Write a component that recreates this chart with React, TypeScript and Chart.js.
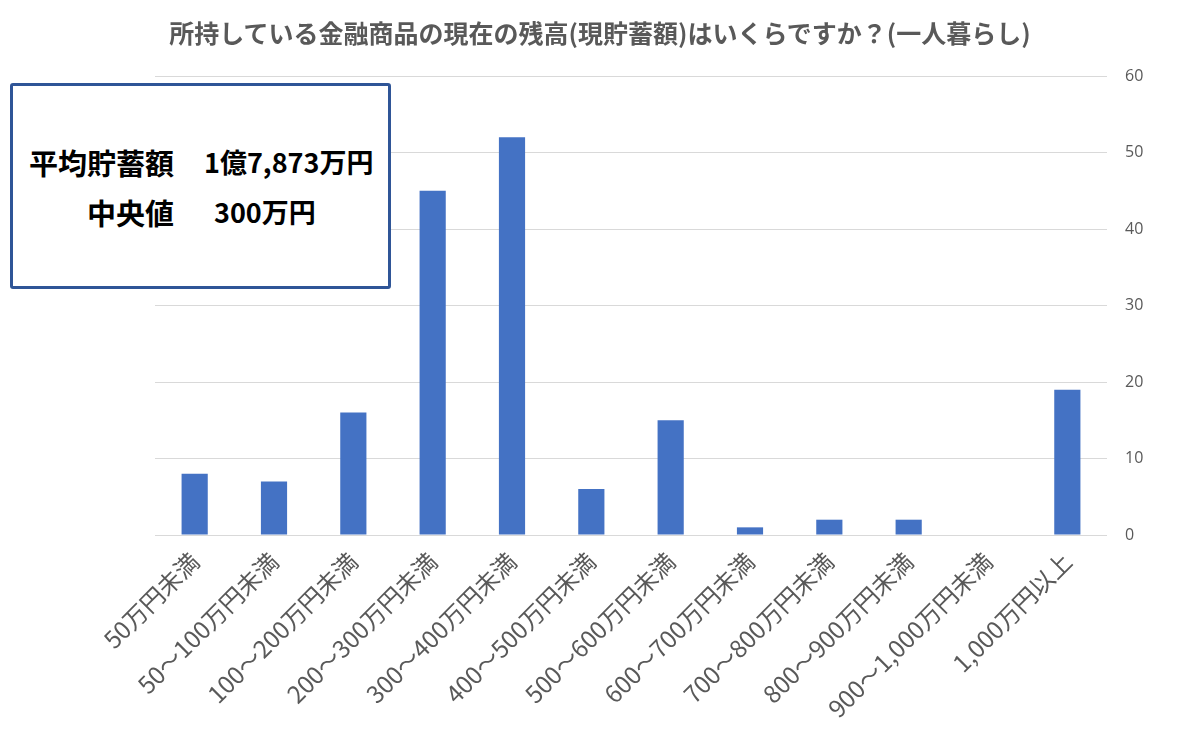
import React, { useEffect, useRef } from "react";
import { Chart, registerables } from "chart.js";

Chart.register(...registerables);

const titleText =
  "所持している金融商品の現在の残高(現貯蓄額)はいくらですか？(一人暮らし)";

const categories = [
  "50万円未満",
  "50～100万円未満",
  "100～200万円未満",
  "200～300万円未満",
  "300～400万円未満",
  "400～500万円未満",
  "500～600万円未満",
  "600～700万円未満",
  "700～800万円未満",
  "800～900万円未満",
  "900～1,000万円未満",
  "1,000万円以上",
];

const counts = [8, 7, 16, 45, 52, 6, 15, 1, 2, 2, 0, 19];

const yMin = 0;
const yMax = 60;
const yStep = 10;

const summaryLabels = ["平均貯蓄額", "中央値"];
const summaryValues = ["1億7,873万円", "300万円"];

const JP = '"Noto Sans CJK JP", "Noto Sans", sans-serif';

export default function App() {
  const canvasRef = useRef<HTMLCanvasElement | null>(null);

  useEffect(() => {
    if (!canvasRef.current) return;
    const chart = new Chart(canvasRef.current, {
      type: "bar",
      data: {
        labels: categories,
        datasets: [
          {
            data: counts,
            backgroundColor: "#4472C4",
            barPercentage: 0.33,
            categoryPercentage: 1,
          },
        ],
      },
      options: {
        animation: false,
        responsive: true,
        maintainAspectRatio: false,
        layout: { padding: { left: 155, right: 0, top: 76, bottom: 0 } },
        plugins: {
          legend: { display: false },
          tooltip: { enabled: false },
          title: { display: false },
        },
        scales: {
          x: {
            grid: { display: false, drawTicks: false },
            border: { display: false },
            ticks: {
              color: "#595959",
              font: { family: JP, size: 24 },
              minRotation: 45,
              maxRotation: 45,
              autoSkip: false,
              padding: 12,
            },
            afterFit: (scale: any) => {
              scale.height = 218;
            },
          },
          y: {
            position: "right",
            min: yMin,
            max: yMax,
            ticks: {
              stepSize: yStep,
              color: "#595959",
              font: { family: '"Open Sans", "Noto Sans", sans-serif', size: 16 },
              padding: 18,
            },
            grid: { color: "#D9D9D9", drawTicks: false, lineWidth: 1 },
            border: { display: false },
            afterFit: (scale: any) => {
              scale.width = 93;
            },
          },
        },
      },
    });
    return () => chart.destroy();
  }, []);

  const textStyle: React.CSSProperties = {
    position: "absolute",
    fontFamily: JP,
    fontWeight: "bold",
    lineHeight: "40px",
    color: "#000",
    whiteSpace: "nowrap",
  };

  return (
    <div
      style={{
        position: "fixed",
        left: 0,
        top: 0,
        width: 1200,
        height: 753,
        background: "#fff",
      }}
    >
      <canvas ref={canvasRef} />
      <div
        style={{
          position: "absolute",
          left: 0,
          width: 1200,
          top: 14,
          textAlign: "center",
          fontFamily: JP,
          fontWeight: "bold",
          fontSize: 25,
          lineHeight: "36px",
          color: "#595959",
          whiteSpace: "nowrap",
        }}
      >
        {titleText}
      </div>
      <div
        style={{
          position: "absolute",
          left: 10,
          top: 83,
          width: 381,
          height: 206,
          boxSizing: "border-box",
          border: "3px solid #2F5597",
          borderRadius: 3,
          background: "#fff",
        }}
      />
      <div style={{ ...textStyle, fontSize: 29, right: 1200 - 174, top: 142 }}>{summaryLabels[0]}</div>
      <div style={{ ...textStyle, fontSize: 27, left: 204, top: 142 }}>{summaryValues[0]}</div>
      <div style={{ ...textStyle, fontSize: 29, right: 1200 - 174, top: 192 }}>{summaryLabels[1]}</div>
      <div style={{ ...textStyle, fontSize: 27, left: 214, top: 192 }}>{summaryValues[1]}</div>
    </div>
  );
}
